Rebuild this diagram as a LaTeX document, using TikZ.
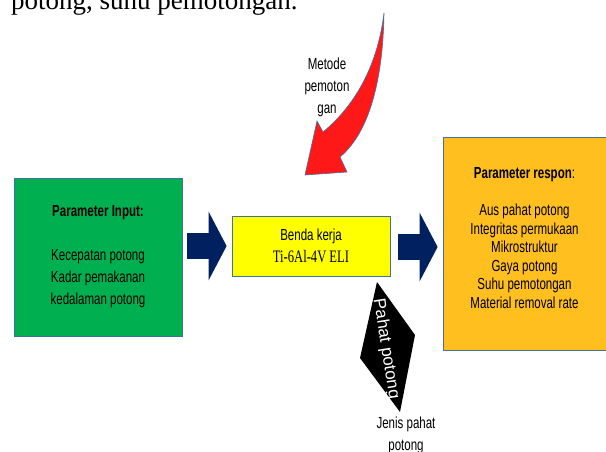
\documentclass[tikz,border=0pt]{standalone}
\usepackage{fontspec}
\setmainfont{Liberation Serif}
\newfontfamily\narrowsans[FakeStretch=0.72]{Liberation Sans}
\newfontfamily\narrowserif[FakeStretch=0.72]{Liberation Serif}
\newfontfamily\plainsans{Liberation Sans}
\usetikzlibrary{arrows.meta, positioning, calc}

\definecolor{boxgreen}{HTML}{00B050}
\definecolor{boxyellow}{HTML}{FFFF00}
\definecolor{boxorange}{HTML}{FFBF1F}
\definecolor{navyarrow}{HTML}{002060}
\definecolor{edgeblue}{HTML}{41719C}
\definecolor{bigred}{HTML}{FF1818}

\begin{document}
\begin{tikzpicture}[
    x=1pt, y=-1pt,
    paramblock/.style={
        rectangle, draw=edgeblue, line width=0.8pt,
        inner sep=0pt, align=center,
        font=\narrowsans\fontsize{16}{22}\selectfont
    },
    blocktxt/.style={
        inner sep=0pt, align=center,
        font=\narrowsans\fontsize{16}{22}\selectfont
    },
    blockarrow/.style={
        draw=navyarrow, line width=26pt,
        -{Triangle[length=18pt, width=68pt]}
    },
]
\useasboundingbox (0,0) rectangle (606,452);
\clip (0,0) rectangle (606,452);

% ── Body text above the figure ──
\node[anchor=base west, inner sep=0pt, font=\fontsize{27}{30}\selectfont] (bodyline) at (11,10) {potong, suhu pemotongan.};

% ── Blocks ──
\node[paramblock, fill=boxgreen, minimum width=168pt, minimum height=158pt] (input) at (98,257)
    {\textbf{Parameter Input:}\\[22pt] Kecepatan potong\\ Kadar pemakanan\\ kedalaman potong};

\node[paramblock, fill=boxyellow, minimum width=158pt, minimum height=60pt] (work) at (311,246)
    {Benda kerja\\ {\narrowserif\fontsize{17.5}{22}\selectfont Ti-6Al-4V ELI}};

\node[paramblock, fill=boxorange, minimum width=163pt, minimum height=213pt] (response) at (524.5,243.5) {};
\node[blocktxt, font=\narrowsans\fontsize{16}{18.6}\selectfont] (responsetxt) at ([yshift=5.5pt]response.center)
    {\textbf{Parameter respon}:\\[18.6pt] Aus pahat potong\\ Integritas permukaan\\ Mikrostruktur\\ Gaya potong\\ Suhu pemotongan\\ Material removal rate};

% ── Block arrows ──
\draw[blockarrow] ($(input.east |- work.west)+(5,0)$) -- ($(work.west)+(-5,0)$);
\draw[blockarrow] ($(work.east)+(8,1)$) -- ($(response.west |- work.east)+(-5,1)$);

% ── Cutting method (red curved arrow) ──
\filldraw[fill=bigred, draw=edgeblue, line width=0.6pt]
    (384,13) .. controls (383,78) and (370,132) .. (340,157)
    -- (347,172) -- (305,175) -- (317,121) -- (323,132)
    .. controls (352,108) and (377,70) .. (384,13) -- cycle;
\node[blocktxt] (methodlbl) at (327,87) {Metode\\ pemoton\\ gan};

% ── Cutting tool ──
\coordinate (tooltop) at (377,282);
\coordinate (toolright) at (415,335);
\coordinate (toolbottom) at (400,412);
\coordinate (toolleft) at (360,358);
\fill[black] (tooltop) -- (toolright) -- (toolbottom) -- (toolleft) -- cycle;
\node[rotate=-81, text=white, inner sep=0pt, font=\plainsans\fontsize{17}{18}\selectfont] (tooltxt) at (386,349) {Pahat potong};
\node[blocktxt] (toollbl) at (406,435) {Jenis pahat\\ potong};

\end{tikzpicture}
\end{document}
